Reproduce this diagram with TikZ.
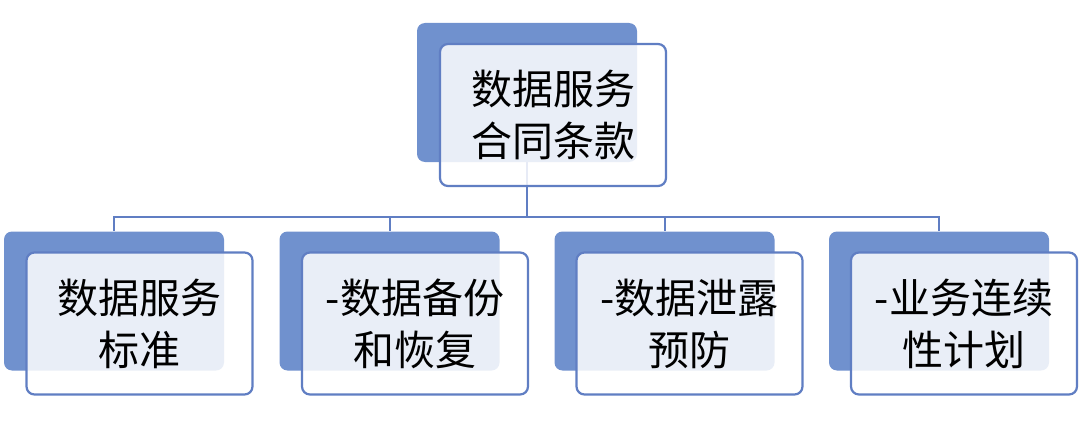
\documentclass[tikz,border=0pt]{standalone}
\usepackage{fontspec}
\setmainfont{Noto Sans CJK SC}
\definecolor{shade}{RGB}{112,145,206}
\definecolor{edge}{RGB}{96,126,195}
\begin{document}
\begin{tikzpicture}[x=1pt,y=-1pt,
  back/.style={fill=shade,rounded corners=8pt,minimum width=220pt,minimum height=139pt,inner sep=0pt},
  front/.style={draw=edge,line width=2.2pt,fill=white,fill opacity=0.85,text opacity=1,rounded corners=8pt,
    minimum width=226pt,minimum height=142pt,inner sep=0pt,align=center,font=\fontsize{41}{52}\selectfont},
  link/.style={draw=edge,line width=2pt}]
\useasboundingbox (0,0) rectangle (1080,444);
\node[back] (topbk) at (527,92.5) {};
\node[back] (stdbk) at (114,301) {};
\node[back] (bakbk) at (389.5,301) {};
\node[back] (leakbk) at (664.5,301) {};
\node[back] (planbk) at (939,301) {};
\coordinate (hub) at (527,217);
\draw[link] (topbk.south) -- (hub);
\draw[link] (hub) -| (stdbk.north);
\draw[link] (hub) -| (bakbk.north);
\draw[link] (hub) -| (leakbk.north);
\draw[link] (hub) -| (planbk.north);
\node[front] (top) at (553,115) {数据服务\\合同条款};
\node[front] (std) at (139.5,323.5) {数据服务\\标准};
\node[front] (bak) at (415,323.5) {-数据备份\\和恢复};
\node[front] (leak) at (689.5,323.5) {-数据泄露\\预防};
\node[front] (plan) at (964,323.5) {-业务连续\\性计划};
\end{tikzpicture}
\end{document}
